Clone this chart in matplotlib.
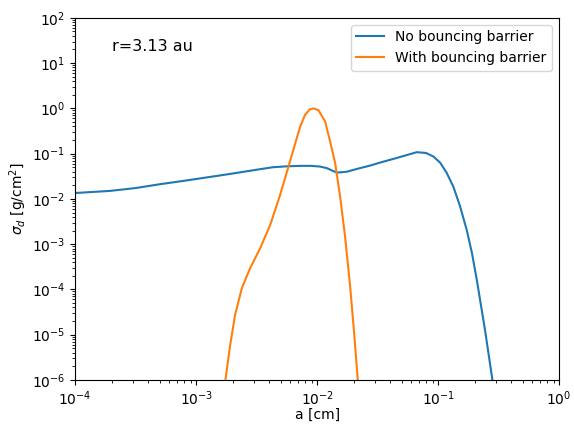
import matplotlib
matplotlib.use('Agg')
import matplotlib.pyplot as plt
import numpy as np

# log10(a [cm]) and log10(sigma_d)
log_a_nobb = [-4.0, -3.711, -3.5, -3.298, -3.1, -2.884, -2.7, -2.471, -2.364, -2.25, -2.14,
              -2.05, -1.975, -1.92, -1.837, -1.755, -1.66, -1.562, -1.47, -1.369, -1.27,
              -1.176, -1.1, -1.038, -0.983, -0.93, -0.874, -0.82, -0.763, -0.72, -0.68,
              -0.612, -0.551, -0.52]
log_s_nobb = [-1.87, -1.823, -1.76, -1.675, -1.60, -1.514, -1.44, -1.343, -1.30, -1.28, -1.27,
              -1.27, -1.286, -1.32, -1.42, -1.40, -1.33, -1.264, -1.19, -1.116, -1.04,
              -0.968, -0.985, -1.065, -1.20, -1.42, -1.73, -2.15, -2.69, -3.2, -3.79,
              -4.90, -6.0, -6.6]

log_a_bb = [-2.78, -2.76, -2.719, -2.678, -2.622, -2.554, -2.471, -2.388, -2.306, -2.237,
            -2.14, -2.099, -2.06, -2.03, -1.989, -1.934, -1.893, -1.851, -1.81, -1.769,
            -1.727, -1.694, -1.664, -1.65]
log_s_bb = [-6.5, -6.04, -5.23, -4.56, -3.97, -3.53, -3.09, -2.575, -1.91, -1.286,
            -0.40, -0.14, -0.02, 0.0, -0.04, -0.29, -0.73, -1.21, -1.95, -2.83,
            -3.94, -4.97, -6.0, -6.5]

a_nobb = 10 ** np.array(log_a_nobb)
s_nobb = 10 ** np.array(log_s_nobb)
a_bb = 10 ** np.array(log_a_bb)
s_bb = 10 ** np.array(log_s_bb)

fig = plt.figure(figsize=(5.74, 4.25), dpi=100)
ax = fig.add_axes([0.131, 0.106, 0.843, 0.852])
ax.loglog(a_nobb, s_nobb, label='No bouncing barrier')
ax.loglog(a_bb, s_bb, label='With bouncing barrier')
ax.set_xlim(1e-4, 1)
ax.set_ylim(1e-6, 1e2)
ax.set_xlabel('a [cm]', labelpad=0)
ax.set_ylabel(r'$\sigma_d$ [g/cm$^2$]', labelpad=2)
ax.text(0.076, 0.92, 'r=3.13 au', transform=ax.transAxes, fontsize=11.5, va='center')
ax.legend(loc='upper right')

fig.savefig('out.png', dpi=100)
